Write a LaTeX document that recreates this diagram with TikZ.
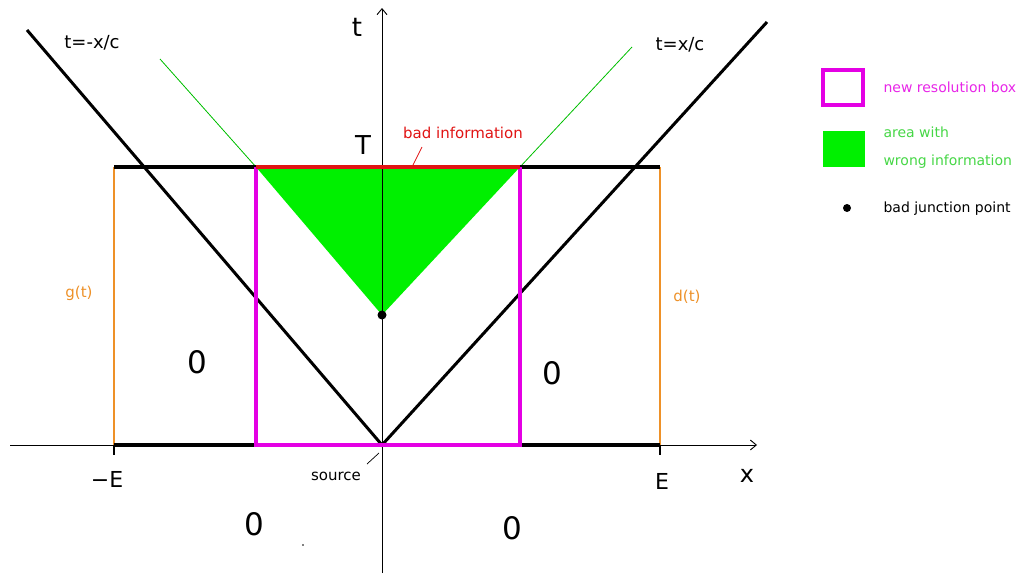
\documentclass[tikz,border=0pt]{standalone}
\usepackage{fontspec}
\setmainfont{DejaVu Sans}
\usetikzlibrary{arrows.meta,positioning}
\definecolor{boxmagenta}{RGB}{228,0,228}
\definecolor{wronggreen}{RGB}{0,240,0}
\definecolor{legendgreen}{RGB}{70,215,70}
\definecolor{bdorange}{RGB}{238,145,40}
\definecolor{badred}{RGB}{225,20,20}

\begin{document}
\begin{tikzpicture}[x=1pt, y=-1pt,
    axisline/.style={line width=0.9pt, -{Straight Barb[length=6pt, width=10pt]}},
    cone/.style={line width=3pt, black},
    edgeline/.style={line width=3.2pt, black},
    boxline/.style={line width=3.4pt, boxmagenta},
    bdline/.style={line width=2pt, bdorange},
    thincone/.style={line width=0.8pt, wronggreen!80!black},
    leader/.style={line width=0.7pt},
    lbl/.style={font=\fontsize{15}{18}\selectfont},
    big/.style={font=\fontsize{26}{30}\selectfont},
    zero/.style={font=\fontsize{31}{34}\selectfont},
    legendtxt/.style={anchor=west, font=\fontsize{14}{17}\selectfont},
]
    \path[use as bounding box, fill=white] (0,0) rectangle (1030,573);
    % corner points
    \coordinate (src) at (382,445);
    \coordinate (mE) at (114,445);
    \coordinate (pE) at (660,445);
    \coordinate (mEt) at (114,167);
    \coordinate (pEt) at (660,167);
    \coordinate (bl) at (256,445);
    \coordinate (br) at (520,445);
    \coordinate (tl) at (256,167);
    \coordinate (tr) at (520,167);
    \coordinate (jp) at (382,315);
    \coordinate (coneL) at (27,30);
    \coordinate (coneR) at (767,22);
    \coordinate (greenL) at (160,59);
    \coordinate (greenR) at (632,47);
    % wrong area
    \fill[wronggreen] (tl) -- (tr) -- (jp) -- cycle;
    % axes
    \coordinate (xstart) at (10,445);
    \coordinate (xend) at (757,445);
    \coordinate (tstart) at (382,573);
    \coordinate (tend) at (382,8);
    \draw[axisline] (xstart) -- (xend);
    \draw[axisline] (tstart) -- (tend);
    % light cones
    \draw[cone] (coneL) -- (src) -- (coneR);
    \draw[thincone] (tl) -- (greenL);
    \draw[thincone] (tr) -- (greenR);
    % domain
    \draw[bdline] (mE) -- (mEt);
    \draw[bdline] (pE) -- (pEt);
    \draw[edgeline] (mEt) -- (tl);
    \draw[edgeline] (tr) -- (pEt);
    \draw[edgeline] (mE) -- (bl);
    \draw[edgeline] (br) -- (pE);
    \draw[line width=2.4pt] (mE) -- ++(0,10);
    \draw[line width=2.4pt] (pE) -- ++(0,10);
    \draw[boxline] (tl) -- (bl) -- (br) -- (tr);
    \draw[line width=3.6pt, badred] (tl) -- (tr);
    \fill (jp) circle[radius=4.5pt];
    \fill (303,545) circle[radius=0.8pt];
    % labels
    \node[font=\fontsize{18}{20}\selectfont] (lblL) at (92,43) {t=-x/c};
    \node[font=\fontsize{18}{20}\selectfont] (lblR) at (680,45) {t=x/c};
    \node[big] (tlbl) at (357,27) {t};
    \node[big] (Tlbl) at (363,145) {T};
    \node[big, font=\fontsize{24}{28}\selectfont] (xlbl) at (747,476) {x};
    \node[big, font=\fontsize{22}{26}\selectfont] (mElbl) at (107,479) {−E};
    \node[big, font=\fontsize{22}{26}\selectfont] (pElbl) at (662,481) {E};
    \node[lbl, badred] (badinfo) at (463,133) {bad information};
    \draw[leader, badred] (422,147) -- (413,165);
    \node[lbl] (srclbl) at (336,476) {source};
    \draw[leader] (367,464) -- (379,453);
    \node[lbl, bdorange] (glbl) at (79,293) {g(t)};
    \node[lbl, bdorange] (dlbl) at (687,297) {d(t)};
    \node[zero] (z1) at (197,362) {0};
    \node[zero] (z2) at (552,373) {0};
    \node[zero] (z3) at (254,524) {0};
    \node[zero] (z4) at (512,528) {0};
    % legend
    \draw[line width=3.5pt, boxmagenta] (823,70) rectangle (863,105);
    \fill[wronggreen] (823,131) rectangle (865,167);
    \fill (847,208) circle[radius=4pt];
    \node[legendtxt, boxmagenta!85!white] (lg1) at (880,87) {new resolution box};
    \node[legendtxt, legendgreen] (lg2) at (880,132) {area with};
    \node[legendtxt, legendgreen] (lg3) at (880,162) {wrong information};
    \node[legendtxt] (lg4) at (880,209) {bad junction point};
\end{tikzpicture}
\end{document}
